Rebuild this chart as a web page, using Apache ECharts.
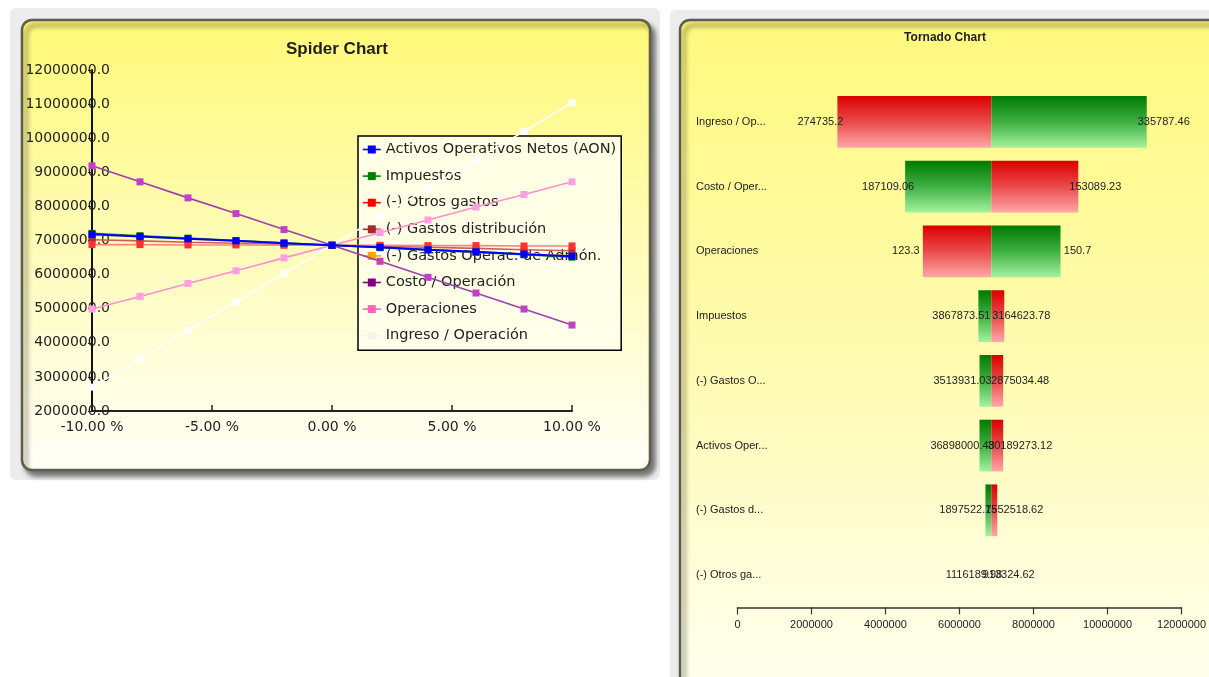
<!DOCTYPE html>
<html>
<head>
<meta charset="utf-8">
<script src="https://cdn.jsdelivr.net/npm/echarts@6/dist/echarts.min.js"></script>
<style>
  html, body { margin: 0; padding: 0; background: #ffffff; }
  #chart { width: 1209px; height: 677px; }
</style>
</head>
<body>
<div id="chart"></div>
<script>
// ---- Spider chart data: profit at each % change of one variable ----
const pctSteps = [-10, -8, -6, -4, -2, 0, 2, 4, 6, 8, 10];
const spiderYTicks = [2000000, 12000000, 1000000]; // min, max, interval
const spiderXTicks = [-10, 10, 5];

const serAON      = [7180000, 7120000, 7050000, 6990000, 6920000, 6860000, 6800000, 6730000, 6670000, 6600000, 6540000];
const serImp      = [7210000, 7140000, 7070000, 7000000, 6930000, 6860000, 6790000, 6720000, 6650000, 6580000, 6510000];
const serOtros    = [6880000, 6880000, 6870000, 6870000, 6860000, 6860000, 6860000, 6850000, 6850000, 6840000, 6840000];
const serDistrib  = [7020000, 6990000, 6950000, 6920000, 6890000, 6860000, 6830000, 6800000, 6770000, 6730000, 6700000];
const serAdmon    = [7170000, 7110000, 7050000, 6980000, 6920000, 6860000, 6800000, 6740000, 6670000, 6610000, 6550000];
const serCosto    = [9190000, 8720000, 8250000, 7790000, 7320000, 6860000, 6390000, 5920000, 5460000, 4990000, 4520000];
const serOper     = [4990000, 5360000, 5740000, 6110000, 6490000, 6860000, 7230000, 7600000, 7980000, 8350000, 8720000];
const serIngreso  = [2700000, 3530000, 4360000, 5200000, 6030000, 6860000, 7700000, 8530000, 9370000, 10200000, 11040000];

const spiderNames = [
  'Activos Operativos Netos (AON)',
  'Impuestos',
  '(-) Otros gastos',
  '(-) Gastos distribución',
  '(-) Gastos Operac. de Admón.',
  'Costo / Operación',
  'Operaciones',
  'Ingreso / Operación'
];
const spiderValues = [serAON, serImp, serOtros, serDistrib, serAdmon, serCosto, serOper, serIngreso];
// legend colour, line colour, marker colour
const spiderLegendColors = ['#0000ff', '#008000', '#ff0000', '#a52a2a', '#ffa500', '#800080', '#ff66bb', '#f4f4ea'];
const spiderLineColors   = ['#0000ff', '#1a8a1a', '#ff8080', '#c86060', '#ffb040', '#a040a8', '#ff90cc', '#ffffff'];
const spiderMarkColors   = ['#0000ff', '#008000', '#ff3030', '#b03030', '#ffa500', '#c040c8', '#ff9ee0', '#ffffff'];
// stacking order of the lines (higher = drawn on top)
const spiderZ = [12, 11, 9, 8, 7, 6, 5, 4];

// ---- Tornado chart data ----
const tornCats = ['Ingreso / Op...', 'Costo / Oper...', 'Operaciones', 'Impuestos',
                  '(-) Gastos O...', 'Activos Oper...', '(-) Gastos d...', '(-) Otros ga...'];
const tornBase = 6860000;
const tornLow  = [2700000, 4530000, 5010000, 6510000, 6540000, 6540000, 6700000, 6850000];
const tornHigh = [11060000, 9210000, 8730000, 7210000, 7180000, 7180000, 7020000, 6870000];
const tornGreenLeft = [0, 1, 0, 1, 1, 1, 1, 1];
const tornLeftText  = ['274735.2', '187109.06', '123.3', '3867873.51', '3513931.03', '36898000.48', '1897522.75', '1116189.98'];
const tornRightText = ['335787.46', '153089.23', '150.7', '3164623.78', '2875034.48', '30189273.12', '1552518.62', '913324.62'];
const tornXTicks = [0, 12000000, 2000000];

const SANS = "'Liberation Sans', Arial, sans-serif";
const WIDE = "'DejaVu Sans', Verdana, sans-serif";

const chart = echarts.init(document.getElementById('chart'), null, { renderer: 'canvas' });

function vGrad(stops) {
  return new echarts.graphic.LinearGradient(0, 0, 0, 1, stops.map((c, i) => ({ offset: i / (stops.length - 1), color: c })));
}
const redGrad = () => vGrad(['#dc0000', '#ea4a4a', '#ffa8a8']);
const greenGrad = () => vGrad(['#007a00', '#3fb043', '#a6f2a0']);

const spiderSeries = spiderNames.map((name, k) => ({
  name: name,
  type: 'line',
  xAxisIndex: 0,
  yAxisIndex: 0,
  z: spiderZ[k],
  symbol: 'rect',
  symbolSize: 7,
  animation: false,
  lineStyle: { color: spiderLineColors[k], width: k === 0 ? 2 : 1.6 },
  itemStyle: { color: spiderMarkColors[k] },
  data: pctSteps.map((p, i) => [p, spiderValues[k][i]])
}));

const tornadoSeries = {
  type: 'custom',
  xAxisIndex: 1,
  yAxisIndex: 1,
  animation: false,
  encode: { x: [1, 2], y: 0 },
  data: tornCats.map((c, i) => [i, tornLow[i], tornHigh[i], tornGreenLeft[i]]),
  renderItem: function (params, api) {
    const idx = api.value(0);
    const pLow = api.coord([api.value(1), idx]);
    const pBase = api.coord([tornBase, idx]);
    const pHigh = api.coord([api.value(2), idx]);
    const bh = api.size([0, 1])[1] * 0.8;
    const greenLeft = api.value(3) === 1;
    const y0 = pBase[1] - bh / 2;
    const txt = { fontFamily: SANS, fontSize: 11, fill: '#222', align: 'center', verticalAlign: 'middle' };
    const children = [];
    // bars thinner than a pixel are left out
    if (pBase[0] - pLow[0] >= 1) {
      children.push({ type: 'rect', shape: { x: pLow[0], y: y0, width: pBase[0] - pLow[0], height: bh },
        style: { fill: greenLeft ? greenGrad() : redGrad() } });
    }
    if (pHigh[0] - pBase[0] >= 1) {
      children.push({ type: 'rect', shape: { x: pBase[0], y: y0, width: pHigh[0] - pBase[0], height: bh },
        style: { fill: greenLeft ? redGrad() : greenGrad() } });
    }
    children.push({ type: 'text', x: pLow[0] - 17, y: pBase[1],
      style: Object.assign({ text: tornLeftText[params.dataIndex] }, txt) });
    children.push({ type: 'text', x: pHigh[0] + 17, y: pBase[1],
      style: Object.assign({ text: tornRightText[params.dataIndex] }, txt) });
    return { type: 'group', children: children };
  }
};

const option = {
  backgroundColor: '#ffffff',
  animation: false,
  graphic: [
    // left frame and panel
    { type: 'rect', z: -30, shape: { x: 10, y: 8, width: 650, height: 472, r: 6 }, style: { fill: '#ececec' } },
    { type: 'rect', z: -20, shape: { x: 22, y: 20, width: 628, height: 450, r: 10 },
      style: { fill: vGrad(['#fff977', '#fffcb8', '#fffff8']), stroke: '#5e5e48', lineWidth: 2.5,
               shadowBlur: 5, shadowOffsetX: 4, shadowOffsetY: 5, shadowColor: 'rgba(0,0,0,0.5)' } },
    // right frame and panel
    { type: 'rect', z: -30, shape: { x: 670, y: 10, width: 560, height: 700, r: 6 }, style: { fill: '#ececec' } },
    { type: 'rect', z: -20, shape: { x: 680, y: 20, width: 560, height: 700, r: 10 },
      style: { fill: vGrad(['#fff97e', '#fffbb2', '#fffff6']), stroke: '#5e5e48', lineWidth: 2.5,
               shadowBlur: 5, shadowOffsetX: 4, shadowOffsetY: 5, shadowColor: 'rgba(0,0,0,0.5)' } },
    { type: 'text', z: 5, x: 337, y: 49,
      style: { text: 'Spider Chart', font: 'bold 17px ' + SANS, fill: '#1e1e1e', align: 'center', verticalAlign: 'middle' } },
    { type: 'text', z: 5, x: 945, y: 38,
      style: { text: 'Tornado Chart', font: 'bold 12px ' + SANS, fill: '#1e1e1e', align: 'center', verticalAlign: 'middle' } }
  ],
  legend: {
    z: 1,
    left: 358,
    top: 136,
    orient: 'vertical',
    selectedMode: false,
    itemWidth: 18,
    itemHeight: 10,
    itemGap: 11.6,
    padding: [6, 5, 7, 4],
    backgroundColor: 'rgba(255,255,236,0.9)',
    borderColor: '#000',
    borderWidth: 1.5,
    borderRadius: 0,
    textStyle: { fontFamily: WIDE, fontSize: 14.5, color: '#222' },
    data: spiderNames.map((n, k) => ({
      name: n,
      itemStyle: { color: spiderLegendColors[k] },
      lineStyle: { color: spiderLegendColors[k], width: 1.6 }
    }))
  },
  grid: [
    { left: 92, right: 1209 - 572, top: 70, bottom: 677 - 411, containLabel: false },
    { left: 737.5, right: 1209 - 1189.3, top: 89.6, bottom: 677 - 607.4, containLabel: false }
  ],
  xAxis: [
    {
      gridIndex: 0, type: 'value',
      min: spiderXTicks[0], max: spiderXTicks[1], interval: spiderXTicks[2],
      axisLine: { show: true, onZero: false, lineStyle: { color: '#222', width: 2 } },
      axisTick: { show: true, inside: true, length: 6, lineStyle: { color: '#222', width: 1.5 } },
      splitLine: { show: false },
      axisLabel: { margin: 9, fontFamily: WIDE, fontSize: 14, color: '#222',
                   formatter: v => v.toFixed(2) + ' %' }
    },
    {
      gridIndex: 1, type: 'value',
      min: tornXTicks[0], max: tornXTicks[1], interval: tornXTicks[2],
      axisLine: { show: true, onZero: false, lineStyle: { color: '#333', width: 1.5 } },
      axisTick: { show: true, length: 7, lineStyle: { color: '#333', width: 1.2 } },
      splitLine: { show: false },
      axisLabel: { margin: 12, fontFamily: SANS, fontSize: 11, color: '#222',
                   formatter: v => String(v) }
    }
  ],
  yAxis: [
    {
      gridIndex: 0, type: 'value',
      min: spiderYTicks[0], max: spiderYTicks[1], interval: spiderYTicks[2],
      axisLine: { show: true, onZero: false, lineStyle: { color: '#111', width: 2 } },
      axisTick: { show: true, length: 4, lineStyle: { color: '#222' } },
      splitLine: { show: false },
      axisLabel: { margin: -18, fontFamily: WIDE, fontSize: 14, color: '#222',
                   formatter: v => v.toFixed(1) }
    },
    {
      gridIndex: 1, type: 'category', inverse: true,
      data: tornCats,
      axisLine: { show: false },
      axisTick: { show: false },
      splitLine: { show: false },
      axisLabel: { margin: 41.5, align: 'left', fontFamily: SANS, fontSize: 11, color: '#222' }
    }
  ],
  series: spiderSeries.concat([tornadoSeries])
};

chart.setOption(option);
</script>
</body>
</html>
